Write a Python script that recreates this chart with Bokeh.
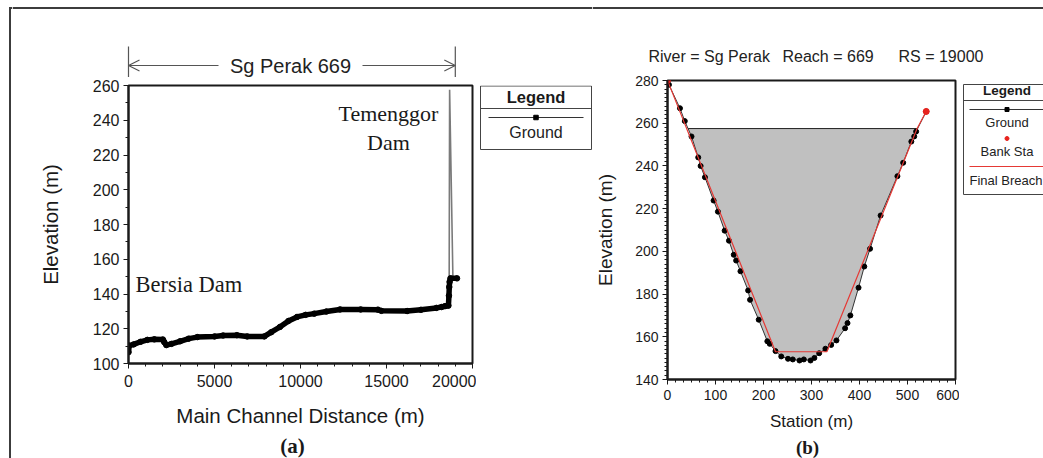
import numpy as np
from bokeh.plotting import figure
from bokeh.layouts import row, column
from bokeh.models import Range1d, FixedTicker, Label, Arrow, OpenHead
from bokeh.embed import file_html
from bokeh.resources import INLINE

# ---------------- data: panel (a) longitudinal profile ----------------
dist_a = [0, 40, 300, 700, 1100, 1500, 2000, 2080, 2200, 2500,
          3000, 3500, 4000, 5000, 5500, 6300, 6900, 7900, 8300, 8800,
          9300, 9800, 10300, 10800, 11500, 12300, 13500, 14500, 14700, 16200,
          17000, 17900, 18200, 18400, 18600, 18630, 18650, 18670, 18720, 19100]
elev_a = [106.5, 110.3, 111.0, 112.5, 113.6, 113.9, 113.8, 112.3, 110.6, 111.3,
          112.8, 114.3, 115.2, 115.6, 116.1, 116.3, 115.6, 115.6, 118.0, 121.0,
          124.5, 126.8, 128.0, 128.7, 129.9, 131.1, 131.1, 131.0, 130.3, 130.2,
          130.9, 132.0, 132.5, 133.0, 133.3, 139.0, 144.0, 147.0, 149.0, 149.0]
bersia_x = [0, 0]
bersia_y = [144, 106.5]
dam_x = [18640, 18670, 18860]
dam_y = [133, 257.5, 150]
reach_start, reach_end = 0, 19000
ticks_a_x = [0, 5000, 10000, 15000, 20000]
ticks_a_y = [100, 120, 140, 160, 180, 200, 220, 240, 260]

# ---------------- data: panel (b) cross section RS 19000 ----------------
station_b = [0, 3, 26, 36, 50, 64, 69, 78, 96, 105, 119, 128, 138, 143, 152, 168, 172,
             190, 208, 213, 225, 237, 251, 261, 275, 284, 298, 306, 316, 329, 341, 352,
             370, 375, 381, 398, 410, 422, 444, 479, 491, 508, 514, 518, 539]
elev_b = [280, 278, 267, 261, 253.8, 244, 240, 234.7, 223.8, 218.6, 209.7, 205, 198.4, 195.7,
          190.7, 181.7, 177.3, 168, 157.9, 156.7, 153.3, 150.8, 149.7, 149.4, 148.9, 149.4,
          148.9, 150.1, 152.3, 154.4, 156.2, 158.3, 164, 166.4, 170, 183, 192.9, 201.2,
          216.8, 235.2, 241.5, 251.4, 253.8, 256.1, 265.5]
bank_sta = [0, 539]
bank_elev = [280, 265.5]
breach_sta = [0, 225, 332, 520, 539]
breach_elev = [280, 153, 153, 257.5, 265.5]
wse_b = 257.5
ticks_b_x = [0, 100, 200, 300, 400, 500, 600]
ticks_b_y = [140, 160, 180, 200, 220, 240, 260, 280]

SANS = "Liberation Sans"
SERIF = "Liberation Serif"
INK = "#1a1a1a"
FRAME = "#3c3c3c"
RED = "#e53935"

# panel a frame on page: x 128..472, y 85..363 ; panel b frame: x 666..955, y 80..379
def ax(px): return (px - 128) / 344 * 20000


def canvas(w, h, xr, yr):
    c = figure(width=w, height=h, x_range=Range1d(*xr), y_range=Range1d(*yr),
               min_border=0, x_axis_location=None, y_axis_location=None,
               toolbar_location=None, output_backend="svg", title=None)
    c.outline_line_color = None
    c.xgrid.visible = False
    c.ygrid.visible = False
    return c


def style(p, xt, yt, xminor, yminor, tick_size):
    p.xgrid.visible = False
    p.ygrid.visible = False
    p.outline_line_color = INK
    p.outline_line_width = 2
    p.xaxis.ticker = FixedTicker(ticks=xt, minor_ticks=xminor)
    p.yaxis.ticker = FixedTicker(ticks=yt, minor_ticks=yminor)
    for a in (p.xaxis[0], p.yaxis[0]):
        a.axis_line_color = INK
        a.axis_line_width = 2
        a.major_tick_in = 0
        a.major_tick_out = 5
        a.minor_tick_in = 0
        a.minor_tick_out = 3
        a.major_tick_line_color = INK
        a.minor_tick_line_color = INK
        a.major_label_text_font = SANS
        a.major_label_text_font_size = tick_size
        a.major_label_text_color = INK
        a.axis_label_text_font = SANS
        a.axis_label_text_font_style = "normal"
        a.axis_label_text_color = INK
        a.major_label_standoff = 4


def lab(p, x, y, text, size, font=SANS, style_="normal", align="center", base="middle", color=INK):
    p.add_layout(Label(x=x, y=y, text=text, text_font=font, text_font_size=size,
                       text_font_style=style_, text_align=align, text_baseline=base,
                       text_color=color))


# ================= left page border (page x 0..12) =================
edge = canvas(12, 458, (0, 12), (458, 0))
edge.line([9.5, 9.5], [6.5, 458], line_color=FRAME, line_width=2)
edge.line([8.5, 12], [7.5, 7.5], line_color=FRAME, line_width=2)

# ================= column A (page x 12..592) =================
ta = canvas(580, 77, (ax(12), ax(592)), (77, 0))
ta.line([ax(12), ax(592)], [7.5, 7.5], line_color=FRAME, line_width=2)
ta.line([reach_start, reach_start], [46, 77], line_color="#555555", line_width=1.2)
ta.line([reach_end, reach_end], [46, 77], line_color="#555555", line_width=1.2)
ta.add_layout(Arrow(end=OpenHead(size=11, line_color="#555555", line_width=1.2),
                    x_start=ax(218), y_start=65, x_end=reach_start, y_end=65,
                    line_color="#555555", line_width=1.2))
ta.add_layout(Arrow(end=OpenHead(size=11, line_color="#555555", line_width=1.2),
                    x_start=ax(362), y_start=65, x_end=reach_end, y_end=65,
                    line_color="#555555", line_width=1.2))
lab(ta, ax(290), 65, "Sg Perak 669", "20px", color="#222222")

pa = figure(width=464, height=355, x_range=Range1d(0, 20000), y_range=Range1d(100, 260),
            output_backend="svg", toolbar_location=None, title=None,
            min_border_left=116, min_border_right=4, min_border_top=8, min_border_bottom=69,
            x_axis_label="Main Channel Distance (m)", y_axis_label="Elevation (m)")
style(pa, ticks_a_x, ticks_a_y, list(range(0, 20001, 1000)), list(range(100, 261, 10)), "16px")
pa.xaxis.axis_label_text_font_size = "20.5px"
pa.yaxis.axis_label_text_font_size = "20.5px"
pa.xaxis.major_label_standoff = 6
pa.xaxis.axis_label_standoff = 14
pa.yaxis.axis_label_standoff = 28

pa.line(dam_x, dam_y, line_color="#7a7a7a", line_width=1.6)
pa.line(bersia_x, bersia_y, line_color="#555555", line_width=1.2)
pa.line(dist_a, elev_a, line_color="black", line_width=5.5, line_join="round")
pa.scatter(dist_a, elev_a, size=5.5, color="black")

lab(pa, 407, 145.2, "Bersia Dam", "22.5px", font=SERIF, align="left", base="alphabetic")
lab(pa, 15116, 243.9, "Temenggor", "22px", font=SERIF, base="alphabetic")
lab(pa, 15116, 227.4, "Dam", "22px", font=SERIF, base="alphabetic")

# legend (a) strip: page x 476..592; its frame is aligned with panel (a)'s frame (y 85..363)
la = canvas(116, 355, (476, 592), (363, 85))
la.quad(left=[480], right=[591], top=[85.5], bottom=[149], fill_alpha=0,
        line_color="#444444", line_width=1)
la.line([480, 591], [108, 108], line_color="#444444", line_width=1)
la.line([488, 583], [117, 117], line_color="#333333", line_width=1)
la.scatter([535.5], [117], size=4.5, marker="square", color="black")
lab(la, 535.5, 96, "Legend", "16.5px", style_="bold")
lab(la, 535.5, 131.5, "Ground", "16px", color="#222222")

ba = canvas(580, 26, (12, 592), (458, 432))
lab(ba, 292, 445, "(a)", "21px", font=SERIF, style_="bold")

col_a = column(ta, row(pa, la), ba)

# ================= column B (page x 592..1043) =================
tb = canvas(451, 70, (592, 1043), (70, 0))
tb.line([592, 1043], [7.5, 7.5], line_color=FRAME, line_width=2)
lab(tb, 648, 56, "River = Sg Perak", "16px", align="left", color="#222222")
lab(tb, 782, 56, "Reach = 669", "16px", align="left", color="#222222")
lab(tb, 898, 56, "RS = 19000", "16px", align="left", color="#222222")

pb = figure(width=367, height=365, x_range=Range1d(0, 600), y_range=Range1d(140, 280),
            output_backend="svg", toolbar_location=None, title=None,
            min_border_left=74, min_border_right=4, min_border_top=10, min_border_bottom=56,
            x_axis_label="Station (m)", y_axis_label="Elevation (m)")
style(pb, ticks_b_x, ticks_b_y, list(np.arange(0, 601, 100 / 6)), list(range(140, 281, 2)), "14px")
pb.xaxis.axis_label_text_font_size = "17px"
pb.yaxis.axis_label_text_font_size = "19px"
pb.xaxis.major_label_standoff = 5
pb.xaxis.axis_label_standoff = 9
pb.yaxis.axis_label_standoff = 16

st = np.array(station_b, dtype=float)
el = np.array(elev_b, dtype=float)
below = el <= wse_b
i0 = int(np.argmax(below))
i1 = len(el) - 1 - int(np.argmax(below[::-1]))
xl = st[i0 - 1] + (st[i0] - st[i0 - 1]) * (el[i0 - 1] - wse_b) / (el[i0 - 1] - el[i0])
xr = st[i1] + (st[i1 + 1] - st[i1]) * (wse_b - el[i1]) / (el[i1 + 1] - el[i1])
fill_x = [xl] + list(st[i0:i1 + 1]) + [xr]
fill_y = [wse_b] + list(el[i0:i1 + 1]) + [wse_b]
pb.patch(fill_x, fill_y, fill_color="#c0c0c0", line_color=None)
pb.line([xl, xr], [wse_b, wse_b], line_color="#222222", line_width=1)
pb.line(station_b, elev_b, line_color="#333333", line_width=1)
pb.scatter(station_b, elev_b, size=5, color="black")
pb.line(breach_sta, breach_elev, line_color=RED, line_width=1.2)
pb.scatter(bank_sta, bank_elev, size=6, color="#e8231e")

# legend (b) strip: page x 959..1043; its frame is aligned with panel (b)'s frame (y 80..379)
lb = canvas(84, 365, (959, 1043), (379, 80))
lb.quad(left=[963], right=[1060], top=[84], bottom=[194], fill_alpha=0,
        line_color="#444444", line_width=1)
lb.line([963, 1060], [100, 100], line_color="#444444", line_width=1)
lb.line([969, 1060], [109, 109], line_color="#333333", line_width=1)
lb.scatter([1006.5], [109], size=4, marker="square", color="black")
lb.scatter([1006.5], [138], size=4, marker="circle", color="#e8231e")
lb.line([969, 1060], [166, 166], line_color=RED, line_width=1.2)
lab(lb, 1006.5, 90, "Legend", "13.5px", style_="bold")
lab(lb, 1006.5, 122, "Ground", "13px", color="#222222")
lab(lb, 1006.5, 151, "Bank Sta", "13px", color="#222222")
lab(lb, 969, 180, "Final Breach", "13px", align="left", color="#222222")

bb = canvas(451, 23, (592, 1043), (458, 435))
lab(bb, 807, 446.5, "(b)", "19px", font=SERIF, style_="bold")

col_b = column(tb, row(pb, lb), bb)

layout = row(edge, col_a, col_b)
open("out.html", "w").write(file_html(layout, INLINE))
